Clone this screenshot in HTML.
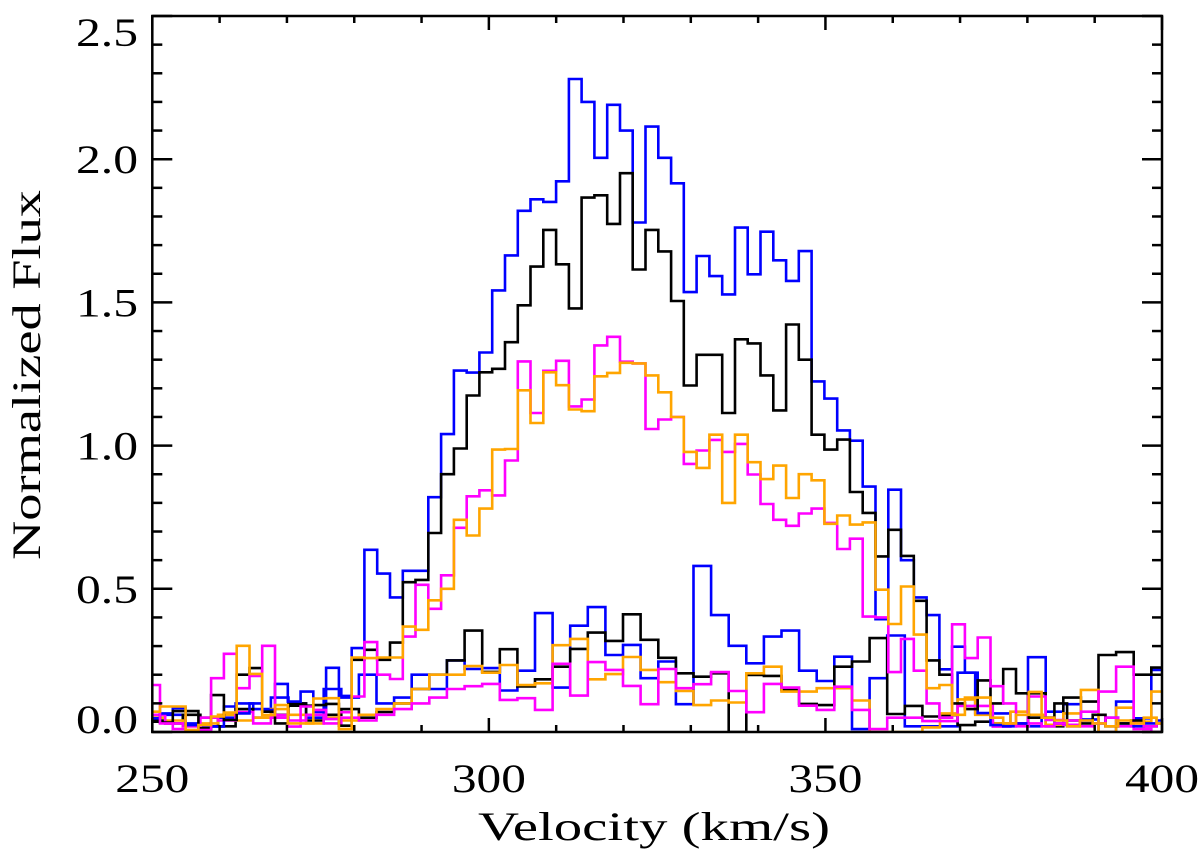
<!DOCTYPE html>
<html><head><meta charset="utf-8"><style>
html,body{margin:0;padding:0;background:#fff;}
svg{display:block;}
text{font-family:"Liberation Serif",serif;fill:#000;}
</style></head><body>
<svg id="chart" width="1200" height="858" viewBox="0 0 1200 858" xmlns="http://www.w3.org/2000/svg">
<g id="series"></g>
<g id="axes"></g>
</svg>
<script>
// Axis ranges
const xDomain = [250, 400];
const yDomain = [0, 2.5];
const xTickMajor = [250, 300, 350, 400];
const xTickLabels = ["250", "300", "350", "400"];
const yTickMajor = [0, 0.5, 1.0, 1.5, 2.0, 2.5];
const yTickLabels = ["0.0", "0.5", "1.0", "1.5", "2.0", "2.5"];

// Fine grid (1.898 km/s bins), starting at first bin edge velocity
const fineStart = 249.25;
const fineWidth = 1.898;
const blueHigh = [.048,.065,.083,.024,.01,.019,.089,.065,.10,.077,.168,.106,.141,.07,.224,.126,.293,
 .636,.553,.47,.563,.563,.82,1.04,1.262,1.255,1.325,1.542,1.664,1.82,1.86,1.851,1.923,2.28,2.20,2.005,2.19,2.10,1.779,2.114,2.005,1.916,1.536,1.662,1.592,1.528,1.761,1.598,1.747,1.647,1.575,1.679,1.224,1.164,1.053,1.017,.857,.394,.846,.60,.47,.408,.219,.298,.207,.066,.024,.02,.03,.02,.05,.03,.02,.04,.03,.05,.03,.02,.03,.04];
const blackHigh = [.036,.033,.073,.073,.013,.129,.042,.20,.223,.071,.03,.092,.092,.094,.098,.022,.252,
 .287,.252,.312,.523,.531,.695,.90,.99,1.175,1.256,1.268,1.361,1.49,1.625,1.753,1.633,1.479,1.866,1.874,1.774,1.951,1.615,1.753,1.678,1.505,1.21,1.317,1.317,1.114,1.371,1.357,1.245,1.123,1.423,1.30,1.038,.986,1.021,.838,.765,.613,.706,.615,.458,.25,.2,.1,.08,.18,.1,.22,.135,.05,.05,.1,.04,.03,.06,.02,.03,.04,.02,.03];
const orangeHigh = [.071,.089,.089,.007,.024,.054,.068,.301,.203,.059,.094,.03,.03,.117,.118,.01,.26,
 .258,.26,.26,.368,.357,.46,.50,.741,.686,.78,.986,.988,1.193,1.079,1.256,1.211,1.126,1.12,1.242,1.254,1.289,1.287,1.245,1.186,1.10,.978,.922,1.038,.80,1.038,.942,.883,.93,.817,.90,.879,.727,.756,.724,.732,.497,.377,.508,.34,.153,.164,.06,.12,.12,.05,.03,.06,.14,.05,.04,.02,.04,.03,.02,.04,.03,.05,.03];
const magentaHigh = [.164,.03,.01,.007,.007,.188,.273,.153,.196,.301,.059,.019,.089,.077,.045,.069,.124,
 .314,.20,.185,.333,.514,.43,.547,.713,.823,.844,.826,.948,1.294,1.114,1.261,1.296,1.137,1.161,1.35,1.38,1.293,1.287,1.058,1.091,1.10,.936,.983,1.02,.978,1.006,.899,.796,.741,.72,.763,.78,.73,.639,.675,.403,.40,.209,.325,.214,.10,.05,.376,.258,.33,.16,.10,.02,.03,.02,.03,.04,.02,.03,.05,.02,.03,.02,.03];

// Coarse grid (2.616 km/s bins)
const coarseStart = 249.3;
const coarseWidth = 2.616;
const blueLow = [.05,.06,.03,.02,.05,.10,.08,.12,.10,.05,.15,.12,.20,.10,.12,.20,.15,.25,.22,
 .223,.145,.214,.415,.155,.371,.436,.269,.304,.188,.246,.097,.58,.408,.301,.24,.333,.354,.214,.178,.263,
 .01,.188,.337,.02,.02,.02,.207,.065,.065,.03,.261,.071,.097,.044,0,.106,.048,.217];
const blackLow = [.04,.03,.06,.05,.02,.08,.05,.06,.10,.04,.06,.08,.05,.07,.10,.15,.20,.25,.354,
 .21,.289,.159,.184,.228,.29,.347,.318,.411,.322,.259,.205,.193,.205,0,.199,.196,.147,.098,.094,.228,
 .246,.328,.063,.091,.054,.059,.024,.036,.03,.03,.135,.02,.12,.106,.269,.279,.20,.225];
const orangeLow = [.05,.04,.02,.03,.06,.04,.05,.08,.06,.03,.05,.04,.06,.08,.10,.15,.20,.20,.23,
 .207,.234,.164,.17,.303,.325,.184,.202,.262,.217,.174,.143,.094,.11,.103,.205,.228,.141,.141,.153,.153,
 .11,0,0,0,.016,.065,.114,.06,.03,.071,.06,.025,.065,.147,0,.085,.036,.141];
const magentaLow = [.06,.03,.02,.05,.04,.07,.03,.05,.04,.06,.03,.05,.04,.06,.08,.10,.12,.15,.16,
 .168,.112,.118,.077,.238,.127,.244,.217,.161,.097,.22,.153,.167,.209,.143,.069,.168,.155,.092,.077,.158,
 .077,.01,.05,.05,.038,.038,.091,.091,.019,.03,.124,.042,.025,.071,.141,.228,.01,0];

const X0 = 152.3, X1 = 1162, Y0 = 732, Y1 = 16;
function xScale(v){ return X0 + (v - xDomain[0]) / (xDomain[1] - xDomain[0]) * (X1 - X0); }
function yScale(v){ return Y0 - (v - yDomain[0]) / (yDomain[1] - yDomain[0]) * (Y0 - Y1); }
const NS = "http://www.w3.org/2000/svg";
const seriesG = document.getElementById("series");
const axesG = document.getElementById("axes");

function stepPath(values, start, width){
  let d = "";
  for (let i = 0; i < values.length; i++){
    let a = start + i*width, b = a + width;
    if (b <= xDomain[0] || a >= xDomain[1]) continue;
    a = Math.max(a, xDomain[0]); b = Math.min(b, xDomain[1]);
    const y = yScale(values[i]).toFixed(1);
    const xa = xScale(a).toFixed(1), xb = xScale(b).toFixed(1);
    d += (d === "" ? "M" + xa + "," + y : "V" + y) + "H" + xb;
  }
  return d;
}
const clip = document.createElementNS(NS, "clipPath");
clip.setAttribute("id", "plotclip");
const cr = document.createElementNS(NS, "rect");
cr.setAttribute("x", X0); cr.setAttribute("y", Y1); cr.setAttribute("width", X1 - X0); cr.setAttribute("height", Y0 - Y1);
clip.appendChild(cr);
document.getElementById("chart").appendChild(clip);
seriesG.setAttribute("clip-path", "url(#plotclip)");

function addSeries(values, start, width, color, name){
  const p = document.createElementNS(NS, "path");
  p.setAttribute("d", stepPath(values, start, width));
  p.setAttribute("fill", "none");
  p.setAttribute("stroke", color);
  p.setAttribute("stroke-width", "2.6");
  
  
  seriesG.appendChild(p);
}
addSeries(blueLow, coarseStart, coarseWidth, "#0000ff", "blue-low-series");
addSeries(blackLow, coarseStart, coarseWidth, "#000000", "black-low-series");
addSeries(orangeLow, coarseStart, coarseWidth, "#ffa500", "orange-low-series");
addSeries(magentaLow, coarseStart, coarseWidth, "#ff00ff", "magenta-low-series");
addSeries(blueHigh, fineStart, fineWidth, "#0000ff", "blue-high-series");
addSeries(blackHigh, fineStart, fineWidth, "#000000", "black-high-series");
addSeries(magentaHigh, fineStart, fineWidth, "#ff00ff", "magenta-high-series");
addSeries(orangeHigh, fineStart, fineWidth, "#ffa500", "orange-high-series");

function line(x1,y1,x2,y2,name){
  const l = document.createElementNS(NS, "line");
  l.setAttribute("x1", x1); l.setAttribute("y1", y1); l.setAttribute("x2", x2); l.setAttribute("y2", y2);
  l.setAttribute("stroke", "#000"); l.setAttribute("stroke-width", "2.5");
  
  
  axesG.appendChild(l);
}
const fr = document.createElementNS(NS, "rect");
fr.setAttribute("x", X0); fr.setAttribute("y", Y1); fr.setAttribute("width", X1 - X0); fr.setAttribute("height", Y0 - Y1);
fr.setAttribute("fill", "none"); fr.setAttribute("stroke", "#000"); fr.setAttribute("stroke-width", "2.5");


axesG.appendChild(fr);
for (let v = xDomain[0]; v <= xDomain[1] + 1e-9; v += 10){
  const major = xTickMajor.indexOf(v) >= 0;
  const len = major ? 14 : 7;
  const x = xScale(v);
  line(x, Y0, x, Y0 - len, "x-tick");
  line(x, Y1, x, Y1 + len, "x-tick-top");
}
for (let i = 0; i <= 25; i++){
  const v = i / 10;
  const major = i % 5 === 0;
  const len = major ? 20 : 10;
  const y = yScale(v);
  line(X0, y, X0 + len, y, "y-tick");
  line(X1, y, X1 - len, y, "y-tick-right");
}
function text(str, x, y, anchor, name, len, extra){
  const t = document.createElementNS(NS, "text");
  t.setAttribute("x", x); t.setAttribute("y", y);
  t.setAttribute("text-anchor", anchor);
  t.setAttribute("font-size", "40");
  if (len) { t.setAttribute("textLength", len); t.setAttribute("lengthAdjust", "spacingAndGlyphs"); }
  if (extra) t.setAttribute("transform", extra);
  t.textContent = str;
  
  
  axesG.appendChild(t);
}
xTickLabels.forEach(function(lab, i){
  text(lab, xScale(xTickMajor[i]), 792, "middle", "x-tick-label", 74);
});
yTickLabels.forEach(function(lab, i){
  let y = yScale(yTickMajor[i]) + 14;
  if (i === 0) y = 733;
  if (i === yTickLabels.length - 1) y = 46;
  text(lab, 138, y, "end", "y-tick-label", 62);
});
text("Velocity (km/s)", 654, 840, "middle", "x-axis-title", 352);
text("Normalized Flux", 40, 375, "middle", "y-axis-title", 370, "rotate(-90 40 375)");
</script>
</body></html>
